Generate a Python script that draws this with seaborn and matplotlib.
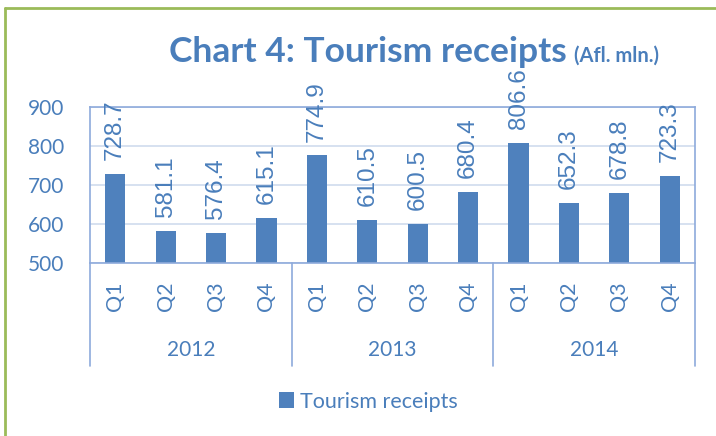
import matplotlib
matplotlib.use("Agg")
import matplotlib.pyplot as plt
import matplotlib.transforms as mtransforms
from matplotlib.lines import Line2D
from matplotlib.patches import Patch
import seaborn as sns
import pandas as pd

years = ["2012", "2013", "2014"]
quarters = ["Q1", "Q2", "Q3", "Q4"]
values = [728.7, 581.1, 576.4, 615.1,
          774.9, 610.5, 600.5, 680.4,
          806.6, 652.3, 678.8, 723.3]
yticks = [500, 600, 700, 800, 900]
series_name = "Tourism receipts"

sns.set_style("white")
plt.rcParams["font.family"] = ["Lato", "DejaVu Sans"]

BLUE = "#4F81BD"
TEXT = "#4A7EBB"
AXIS = "#8EAADB"
GRID = "#CFDBEE"
GREEN = "#9BBB59"

cats = [f"{y} {q}" for y in years for q in quarters]
df = pd.DataFrame({"cat": cats, "value": values})

fig = plt.figure(figsize=(7.16, 4.36), dpi=100)
ax = fig.add_axes([90 / 716, (436 - 262.7) / 436, 605 / 716, 156 / 436])

sns.barplot(data=df, x="cat", y="value", order=cats, color=BLUE, saturation=1,
            width=0.4, ax=ax, linewidth=0)

ax.set_ylim(500, 900)
ax.set_xlim(-0.5, len(cats) - 0.5)
ax.set_yticks(yticks)
ax.set_yticklabels([str(v) for v in yticks], fontsize=15, color=TEXT)
ax.set_xticks(range(len(cats)))
ax.set_xticklabels([q for _ in years for q in quarters], rotation=90,
                   fontsize=15.5, color=TEXT)
ax.tick_params(axis="x", length=0, pad=13.5)
ax.tick_params(axis="y", length=3, width=1, color=AXIS, pad=15.5)
ax.set_xlabel("")
ax.set_ylabel("")

ax.set_axisbelow(True)
ax.yaxis.grid(True, color=GRID, linewidth=1.2)
for side in ["left", "top", "right", "bottom"]:
    ax.spines[side].set_visible(True)
    ax.spines[side].set_color(AXIS)
    ax.spines[side].set_linewidth(1.2)

# data labels
for i, v in enumerate(values):
    ax.annotate(f"{v:.1f}", xy=(i, v), xytext=(0, 10), textcoords="offset points",
                rotation=90, ha="center", va="bottom", fontsize=17.5, color=TEXT,
                family=["Liberation Sans", "DejaVu Sans"], annotation_clip=False)

# year group labels & separators
trans = mtransforms.blended_transform_factory(ax.transData, ax.transAxes)
for gi, y in enumerate(years):
    ax.text(gi * 4 + 1.5, -0.56, y, transform=trans, ha="center", va="center",
            fontsize=15, color=TEXT)
for xs in [-0.5, 3.5, 7.5, 11.5]:
    ax.add_line(Line2D([xs, xs], [0, -0.665], transform=trans, color=AXIS,
                       linewidth=1.2, clip_on=False))

# title
fig.text(169 / 716, 1 - 62 / 436, "Chart 4: Tourism receipts", fontsize=25.5,
         fontweight="bold", color=TEXT, ha="left", va="baseline")
fig.text(574 / 716, 1 - 62 / 436, "(Afl. mln.)", fontsize=14.5,
         fontweight="bold", color=TEXT, ha="left", va="baseline")

# legend
handle = Patch(facecolor=BLUE, edgecolor="none", label=series_name)
fig.legend(handles=[handle], loc="center",
           bbox_to_anchor=(368.5 / 716, 1 - 401.5 / 436),
           frameon=False, fontsize=15.5, labelcolor=TEXT,
           handlelength=0.7, handleheight=0.7, handletextpad=0.3,
           borderpad=0, borderaxespad=0)

# green outer frame (top and left)
fig.add_artist(Line2D([5 / 716, 1], [1 - 8 / 436, 1 - 8 / 436],
                      transform=fig.transFigure, color=GREEN, linewidth=2))
fig.add_artist(Line2D([5 / 716, 5 / 716], [0, 1 - 8 / 436],
                      transform=fig.transFigure, color=GREEN, linewidth=2))

fig.savefig("out.png", dpi=100)
